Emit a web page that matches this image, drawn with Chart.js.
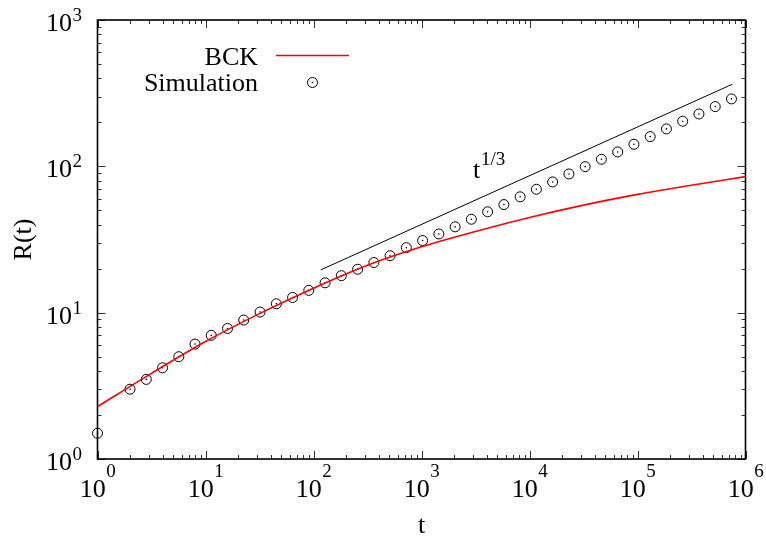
<!DOCTYPE html>
<html>
<head>
<meta charset="utf-8">
<script src="https://cdn.jsdelivr.net/npm/chart.js@4.4.1/dist/chart.umd.min.js"></script>
<style>
    html, body { margin: 0; padding: 0; background: #fff; }
</style>
</head>
<body>
<canvas id="growthChart" width="766" height="541"></canvas>
<script>
/* R(t) vs t, log-log: BCK theory, simulation points, t^(1/3) guide */

// Simulation points (t doubles every two points)
const simT = [1, 2, 2.83, 4, 5.66, 8, 11.3, 16, 22.6, 32, 45.3, 64, 90.5, 128, 181, 256, 362,
    512, 724, 1024, 1448, 2048, 2896, 4096, 5793, 8192, 11585, 16384, 23170, 32768, 46341,
    65536, 92682, 131072, 185364, 262144, 370728, 524288, 741455];
const simR = [1.5, 3.0, 3.5, 4.2, 5.0, 6.1, 7.0, 7.8, 8.9, 10.1, 11.5, 12.7, 14.2, 16.0, 17.9, 19.8, 22.0,
    24.5, 27.8, 31.1, 34.5, 38.6, 43.5, 48.9, 54.8, 61.9, 69.7, 78.2, 88.7, 99.5, 111.8,
    125.4, 141.5, 159.6, 180.2, 203.4, 228, 256, 289];

// BCK curve, read at half decades
const bckT = [1, 3.162, 10, 31.62, 100, 316.2, 1000, 3162, 10000, 31623, 100000, 316228, 1000000];
const bckR = [2.28, 3.85, 6.35, 9.85, 14.7, 21.1, 28.2, 35.9, 44.7, 54.3, 64.3, 74.3, 85.1];

// t^(1/3) guide line
const guideT = [116.6, 755000];
const guideR = [19.6, 364];

// tick exponents
const xExponents = [0, 1, 2, 3, 4, 5, 6];
const yExponents = [0, 1, 2, 3];
const minorSteps = [2, 3, 4, 5, 6, 7, 8, 9];

const SERIF = '"Liberation Serif", "DejaVu Serif", serif';

function toPoints(xs, ys) {
    return xs.map((x, i) => ({ x: x, y: ys[i] }));
}

// "10" with a raised exponent
function drawPower(ctx, exp, x, baseline, align, raise) {
    ctx.font = '26px ' + SERIF;
    const wBase = ctx.measureText('10').width;
    ctx.font = '19px ' + SERIF;
    const wExp = ctx.measureText(String(exp)).width;
    const total = wBase + wExp;
    let left = x;
    if (align === 'center') left = x - total / 2;
    if (align === 'right') left = x - total;
    ctx.textAlign = 'left';
    ctx.textBaseline = 'alphabetic';
    ctx.font = '26px ' + SERIF;
    ctx.fillText('10', left, baseline);
    ctx.font = '19px ' + SERIF;
    ctx.fillText(String(exp), left + wBase + 0.5, baseline - raise);
}

const framePlugin = {
    id: 'gnuplotFrame',
    beforeDatasetsDraw(chart) {
        const ctx = chart.ctx;
        const a = chart.chartArea;
        const xs = chart.scales.x;
        const ys = chart.scales.y;
        ctx.save();

        // ticks on all four sides, pointing inward
        ctx.strokeStyle = '#333';
        ctx.lineWidth = 1;
        ctx.beginPath();
        xExponents.forEach((e, i) => {
            const base = Math.pow(10, e);
            const px = Math.round(xs.getPixelForValue(base)) + 0.5;
            ctx.moveTo(px, a.bottom); ctx.lineTo(px, a.bottom - 8);
            ctx.moveTo(px, a.top); ctx.lineTo(px, a.top + 8);
            if (i < xExponents.length - 1) {
                minorSteps.forEach(m => {
                    const mx = Math.round(xs.getPixelForValue(base * m)) + 0.5;
                    ctx.moveTo(mx, a.bottom); ctx.lineTo(mx, a.bottom - 4);
                    ctx.moveTo(mx, a.top); ctx.lineTo(mx, a.top + 4);
                });
            }
        });
        yExponents.forEach((e, i) => {
            const base = Math.pow(10, e);
            const py = Math.round(ys.getPixelForValue(base)) + 0.5;
            ctx.moveTo(a.left, py); ctx.lineTo(a.left + 8, py);
            ctx.moveTo(a.right, py); ctx.lineTo(a.right - 8, py);
            if (i < yExponents.length - 1) {
                minorSteps.forEach(m => {
                    const my = Math.round(ys.getPixelForValue(base * m)) + 0.5;
                    ctx.moveTo(a.left, my); ctx.lineTo(a.left + 4, my);
                    ctx.moveTo(a.right, my); ctx.lineTo(a.right - 4, my);
                });
            }
        });
        ctx.stroke();

        // border
        ctx.strokeStyle = '#000';
        ctx.lineWidth = 1.6;
        ctx.strokeRect(a.left, a.top, a.right - a.left, a.bottom - a.top);
        ctx.restore();
    },
    afterDraw(chart) {
        const ctx = chart.ctx;
        const a = chart.chartArea;
        const xs = chart.scales.x;
        const ys = chart.scales.y;
        ctx.save();
        ctx.fillStyle = '#000';

        // tick labels
        xExponents.forEach(e => {
            const px = xs.getPixelForValue(Math.pow(10, e));
            drawPower(ctx, e, px, a.bottom + 38, 'center', 20);
        });
        yExponents.forEach(e => {
            const py = ys.getPixelForValue(Math.pow(10, e));
            drawPower(ctx, e, a.left - 16, py + 11, 'right', 10);
        });

        // axis titles
        ctx.font = '26px ' + SERIF;
        ctx.textAlign = 'center';
        ctx.textBaseline = 'alphabetic';
        ctx.fillText('t', (a.left + a.right) / 2, 533);
        ctx.save();
        ctx.translate(31, (a.top + a.bottom) / 2);
        ctx.rotate(-Math.PI / 2);
        ctx.fillText('R(t)', 0, 0);
        ctx.restore();

        // legend
        ctx.textAlign = 'right';
        ctx.fillText('BCK', 258, 65);
        ctx.fillText('Simulation', 258, 91);
        ctx.strokeStyle = '#ff0000';
        ctx.lineWidth = 1.6;
        ctx.beginPath();
        ctx.moveTo(276, 55.5); ctx.lineTo(349, 55.5);
        ctx.stroke();
        ctx.strokeStyle = '#000';
        ctx.lineWidth = 1;
        ctx.beginPath();
        ctx.arc(312.5, 82.5, 5, 0, Math.PI * 2);
        ctx.stroke();
        ctx.beginPath();
        ctx.arc(312.5, 82.5, 0.8, 0, Math.PI * 2);
        ctx.fill();

        // t^{1/3} annotation
        ctx.textAlign = 'left';
        ctx.font = '26px ' + SERIF;
        ctx.fillText('t', 473, 178);
        ctx.font = '19px ' + SERIF;
        ctx.fillText('1/3', 481, 165);

        ctx.restore();
    }
};

function initChart() {
    const ctx = document.getElementById('growthChart');
    const simPoints = toPoints(simT, simR);

    new Chart(ctx, {
        type: 'line',
        data: {
            datasets: [
                {
                    label: 'BCK',
                    data: toPoints(bckT, bckR),
                    borderColor: '#ff0000',
                    borderWidth: 1.6,
                    pointRadius: 0,
                    cubicInterpolationMode: 'monotone',
                    fill: false
                },
                {
                    label: 't^1/3',
                    data: toPoints(guideT, guideR),
                    borderColor: '#000',
                    borderWidth: 1,
                    pointRadius: 0,
                    fill: false
                },
                {
                    label: 'Simulation',
                    data: simPoints,
                    showLine: false,
                    pointStyle: 'circle',
                    pointRadius: 5,
                    pointBorderWidth: 1,
                    pointBorderColor: '#000',
                    pointBackgroundColor: 'rgba(0,0,0,0)',
                    clip: false
                },
                {
                    label: 'Simulation centre',
                    data: simPoints,
                    showLine: false,
                    pointRadius: 0.8,
                    pointBorderWidth: 0,
                    pointBackgroundColor: '#000',
                    clip: false
                }
            ]
        },
        options: {
            responsive: false,
            animation: false,
            devicePixelRatio: 1,
            layout: {
                padding: { left: 97.5, right: 20.5, top: 20, bottom: 82 }
            },
            scales: {
                x: { type: 'logarithmic', min: 1, max: 1e6, display: false },
                y: { type: 'logarithmic', min: 1, max: 1000, display: false }
            },
            plugins: {
                legend: { display: false },
                tooltip: { enabled: false }
            }
        },
        plugins: [framePlugin]
    });
}

document.addEventListener('DOMContentLoaded', initChart);
</script>
</body>
</html>
